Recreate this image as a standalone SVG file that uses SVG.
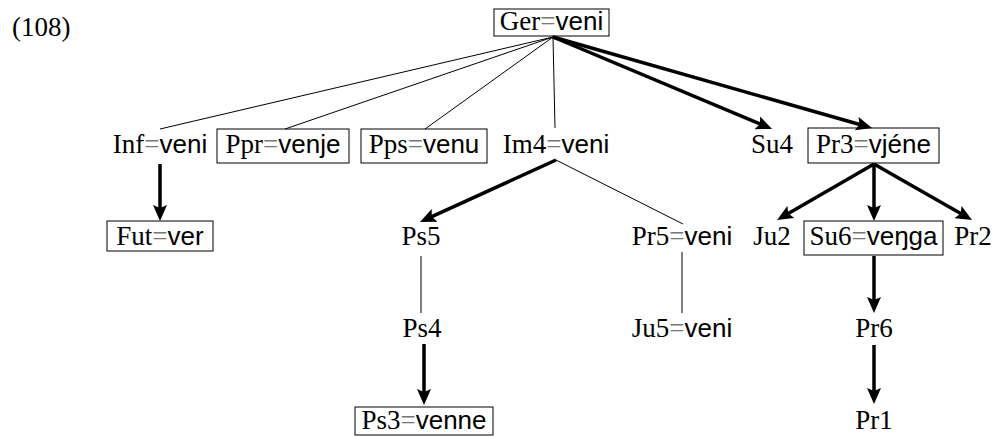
<svg xmlns="http://www.w3.org/2000/svg" width="998" height="437" viewBox="0 0 998 437">
<style>
text{font-family:"Liberation Serif","Times New Roman",serif;font-size:27px;fill:#000;text-anchor:middle}
.s{font-family:"Liberation Sans",Arial,sans-serif;font-size:26px}
.eq{fill:#777}
.box{fill:none;stroke:#000;stroke-width:1}
.thin{stroke:#000;stroke-width:1;fill:none}
.thick{stroke:#000;stroke-width:3.5;fill:none;marker-end:url(#ah)}
</style>
<defs>
<marker id="ah" markerUnits="userSpaceOnUse" viewBox="0 0 16 14" refX="6" refY="7" markerWidth="16" markerHeight="14" orient="auto">
<path d="M0,0 L16,7 L0,14 L3,7 z" fill="#000"/>
</marker>
</defs>
<text x="12" y="36" style="text-anchor:start">(108)</text>
<g id="connectors">
<line class="thin" x1="553" y1="37" x2="160" y2="129"/>
<line class="thin" x1="553" y1="37" x2="285" y2="129"/>
<line class="thin" x1="553" y1="37" x2="425" y2="129"/>
<line class="thin" x1="553" y1="37" x2="555" y2="128"/>
<line class="thick" x1="553" y1="37" x2="762.8" y2="125.1"/>
<line class="thick" x1="553" y1="37" x2="862.4" y2="125.3"/>
<line class="thick" x1="160" y1="164" x2="160" y2="211"/>
<line class="thick" x1="556" y1="160" x2="429.1" y2="217.9"/>
<line class="thin" x1="556" y1="160" x2="683" y2="224"/>
<line class="thick" x1="874" y1="164" x2="785.7" y2="215"/>
<line class="thick" x1="874" y1="164" x2="874" y2="211"/>
<line class="thick" x1="874" y1="164" x2="963.3" y2="215"/>
<line class="thin" x1="421" y1="256" x2="421" y2="313"/>
<line class="thin" x1="682" y1="252" x2="682" y2="313"/>
<line class="thick" x1="874" y1="256" x2="874" y2="303"/>
<line class="thick" x1="424" y1="344" x2="424" y2="395"/>
<line class="thick" x1="874" y1="345" x2="874" y2="394"/>
</g>
<g id="ger"><rect class="box" x="494" y="9" width="115" height="27"/><text x="551.5" y="30">Ger<tspan class="eq">=</tspan><tspan class="s">veni</tspan></text></g>
<g id="inf"><text x="160" y="153">Inf<tspan class="eq">=</tspan><tspan class="s">veni</tspan></text></g>
<g id="ppr"><rect class="box" x="217" y="129" width="132" height="34"/><text x="283" y="153">Ppr<tspan class="eq">=</tspan><tspan class="s">venje</tspan></text></g>
<g id="pps"><rect class="box" x="361" y="129" width="126" height="34"/><text x="424" y="153">Pps<tspan class="eq">=</tspan><tspan class="s">venu</tspan></text></g>
<g id="im4"><text x="556" y="153">Im4<tspan class="eq">=</tspan><tspan class="s">veni</tspan></text></g>
<g id="su4"><text x="772" y="153">Su4</text></g>
<g id="pr3"><rect class="box" x="808" y="128" width="131" height="35"/><text x="873.5" y="153">Pr3<tspan class="eq">=</tspan><tspan class="s">vjéne</tspan></text></g>
<g id="fut"><rect class="box" x="107" y="221" width="106" height="30"/><text x="160" y="245">Fut<tspan class="eq">=</tspan><tspan class="s">ver</tspan></text></g>
<g id="ps5"><text x="421" y="245">Ps5</text></g>
<g id="pr5"><text x="682" y="245">Pr5<tspan class="eq">=</tspan><tspan class="s">veni</tspan></text></g>
<g id="ju2"><text x="772" y="245">Ju2</text></g>
<g id="su6"><rect class="box" x="804" y="221" width="139" height="34"/><text x="873.5" y="245">Su6<tspan class="eq">=</tspan><tspan class="s">veŋga</tspan></text></g>
<g id="pr2"><text x="973" y="245">Pr2</text></g>
<g id="ps4"><text x="422" y="337">Ps4</text></g>
<g id="ju5"><text x="682" y="337">Ju5<tspan class="eq">=</tspan><tspan class="s">veni</tspan></text></g>
<g id="pr6"><text x="874" y="337">Pr6</text></g>
<g id="ps3"><rect class="box" x="355" y="407" width="138" height="28"/><text x="424" y="429">Ps3<tspan class="eq">=</tspan><tspan class="s">venne</tspan></text></g>
<g id="pr1"><text x="874" y="429">Pr1</text></g>
</svg>
